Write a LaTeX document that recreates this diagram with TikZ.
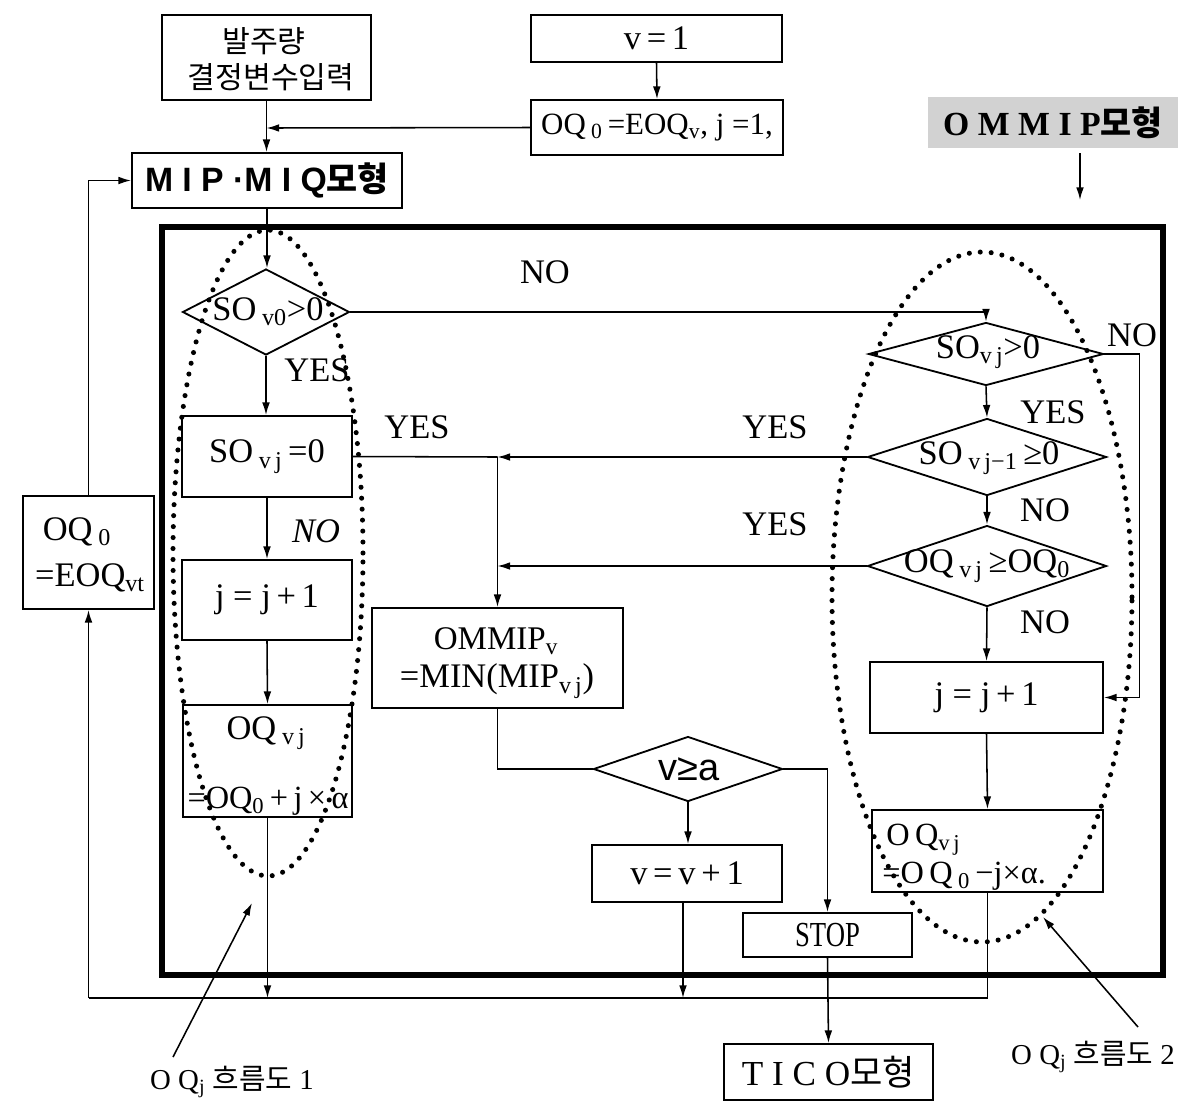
\documentclass[tikz,border=0pt]{standalone}
\usepackage{fontspec}
\usepackage{graphicx}
\setmainfont{Liberation Serif}
\newfontfamily\kr{Noto Sans CJK KR}
\newfontfamily\lsans{Liberation Sans}
\usetikzlibrary{arrows.meta,shapes.geometric}
\newcommand\PX{0.025cm}
\tikzset{
 ln/.style={line width=1.1pt},
 arr/.style={line width=1.1pt, -{Latex[length=9pt,width=5.5pt]}},
 bx/.style={draw, line width=1.3pt, inner sep=0pt, rectangle},
 dm/.style={draw, line width=1.3pt, diamond, inner sep=0pt, aspect=2},
 txt/.style={inner sep=0pt, font=\fontsize{24.5}{27}\selectfont},
 kt/.style={inner sep=0pt, font=\kr\fontsize{21.5}{24}\selectfont},
 captxt/.style={inner sep=0pt, font=\fontsize{20.5}{23}\selectfont},
 dots/.style={line width=3.6pt, line cap=round, dash pattern=on 0pt off 7.8pt},
}
\begin{document}
\begin{tikzpicture}[x=0.025cm,y=-0.025cm]
\fill[white] (0,0) rectangle (1198,1101);
\useasboundingbox (0,0) rectangle (1198,1101);

% top boxes
\node[bx, minimum width=209*\PX, minimum height=85*\PX] (inp) at (266.5,57.5) {};
\node[kt] (inp1) at (264,41) {발주량};
\node[kt] (inp2) at (271,77) {결정변수입력};
\node[bx, txt, minimum width=251*\PX, minimum height=47*\PX] (v1) at (656.5,38.5) {v\,=\,1};
\node[bx, txt, minimum width=252*\PX, minimum height=55*\PX, font=\fontsize{22}{24}\selectfont] (oq0) at (657,127.5) {OQ\,\textsubscript{0}\,=EOQ\textsubscript{v}, j =1,};
\node[bx, minimum width=270*\PX, minimum height=55*\PX, font=\lsans\bfseries\fontsize{24}{26}\selectfont] (mip) at (267,180.5) {M I P ·M I Q{\kr 모형}};
\node[fill=gray!35, inner sep=0pt, minimum width=250*\PX, minimum height=51*\PX, font=\bfseries\fontsize{24}{26}\selectfont] (ommip) at (1053,122.5) {O M M I P{\kr 모형}};

% big frame
\node[draw, line width=3.6pt, inner sep=0pt, minimum width=1001*\PX, minimum height=748*\PX] (big) at (662.5,601) {};

% left column
\node[dm, minimum width=167*\PX, minimum height=86*\PX] (d0) at (266,312) {};
\node[txt] (d0t) at (268,312) {SO\,\textsubscript{v0}>0};
\node[bx, txt, minimum width=170*\PX, minimum height=81*\PX] (s0) at (267,456.5) {SO\,\textsubscript{v\,j}\,=0};
\node[bx, txt, minimum width=170*\PX, minimum height=80*\PX] (jl) at (267,600) {j\ =\ j\,+\,1};
\node[bx, minimum width=169*\PX, minimum height=112*\PX] (oql) at (267.5,761) {};
\node[txt] (oql1) at (266,733) {OQ\,\textsubscript{v\,j}};
\node[txt, font=\fontsize{23}{26}\selectfont] (oql2) at (268,801) {=OQ\textsubscript{0}\,+\,j\,×\,α};
\node[bx, minimum width=131*\PX, minimum height=113*\PX] (eoq) at (88.5,552.5) {};
\node[txt] (eoq1) at (77,532) {OQ\,\textsubscript{0}};
\node[txt] (eoq2) at (90,578) {=EOQ\textsubscript{vt}};

% middle column
\node[bx, minimum width=251*\PX, minimum height=100*\PX] (mn) at (497.5,658) {};
\node[txt, font=\fontsize{23.5}{26}\selectfont] (mn1) at (496,641) {OMMIP\textsubscript{v}};
\node[txt] (mn2) at (497,681) {=MIN(MIP\textsubscript{v\,j})};
\node[dm, minimum width=189*\PX, minimum height=65*\PX] (d4) at (688,769) {};
\node[txt, font=\lsans\fontsize{27}{29}\selectfont] (d4t) at (689,769) {v≥a};
\node[bx, txt, minimum width=190*\PX, minimum height=57*\PX] (vv) at (687,873.5) {v\,=\,v\,+\,1};
\node[bx, txt, minimum width=169*\PX, minimum height=44*\PX, font=\fontsize{25}{27}\selectfont] (stop) at (827.5,935) {\scalebox{0.76}[1]{STOP}};
\node[bx, txt, minimum width=209*\PX, minimum height=56*\PX, font=\fontsize{25}{27}\selectfont] (tico) at (828.5,1072) {T I C O{\kr 모형}};

% right column
\node[dm, minimum width=235*\PX, minimum height=63*\PX] (d1) at (986,354) {};
\node[txt] (d1t) at (988,352) {SO\textsubscript{v\,j}>0};
\node[dm, minimum width=239*\PX, minimum height=77*\PX] (d2) at (987,457) {};
\node[txt] (d2t) at (989,458) {SO\,\textsubscript{v\,j−1}\,≥0};
\node[dm, minimum width=239*\PX, minimum height=81*\PX] (d3) at (987,566) {};
\node[txt] (d3t) at (987,566) {OQ\,\textsubscript{v\,j}\,≥OQ\textsubscript{0}};
\node[bx, txt, minimum width=233*\PX, minimum height=71*\PX] (jr) at (986.5,697.5) {j\ =\ j\,+\,1};
\node[bx, minimum width=231*\PX, minimum height=82*\PX] (oqr) at (987.5,851) {};
\node[txt, anchor=west, font=\fontsize{23}{25}\selectfont] (oqr1) at (886,840) {O\,Q\textsubscript{v\,j}};
\node[txt, anchor=west, font=\fontsize{23}{25}\selectfont] (oqr2) at (882,876) {=O\,Q\,\textsubscript{0}\,−j×α.};

% coordinates
\coordinate (j1) at (266.5,128);
\coordinate (m1) at (497.5,457);
\coordinate (m2) at (497.5,566);
\coordinate (bl) at (267.5,998);
\coordinate (bm) at (683,998);
\coordinate (br) at (987.5,998);
\coordinate (bll) at (88.5,998);
\coordinate (oa1) at (1080,153);
\coordinate (oa2) at (1080,200);
\coordinate (p1s) at (173,1057);
\coordinate (p1e) at (252,903);
\coordinate (p2s) at (1138,1027);
\coordinate (p2e) at (1043,917);

% connectors
\draw[arr] (inp.south) -- (inp.south |- mip.north);
\draw[arr] (v1.south) -- (oq0.north);
\draw[arr] (oq0.west) -- (j1);
\draw[arr] (mip.south) -- (mip.south |- d0.north);
\draw[arr] (d0.south) -- (d0.south |- s0.north);
\draw[arr] (s0.south) -- (jl.north);
\draw[arr] (jl.south) -- (oql.north);
\draw[arr] (oql.south) -- (bl);
\draw[ln] (oqr.south) -- (br) -- (bll);
\draw[arr] (bll) -- (eoq.south);
\draw[arr] (eoq.north) |- (mip.west);
\draw[arr] (vv.south -| bm) -- (bm);
\draw[arr] (d0.east) -| (d1.north);
\draw[arr] (d1.south) -- (d2.north);
\draw[arr] (d2.south) -- (d3.north);
\draw[arr] (d3.south) -- (jr.north);
\draw[arr] (jr.south) -- (oqr.north);
\draw[arr] (d1.east) -- ++(35,0) |- (jr.east);
\draw[ln] (s0.east) -- (m1);
\draw[arr] (d2.west) -- (m1);
\draw[arr] (d3.west) -- (m2);
\draw[arr] (m1) -- (mn.north);
\draw[ln] (mn.south) |- (d4.west);
\draw[arr] (d4.east) -| (stop.north);
\draw[arr] (d4.south) -- (d4.south |- vv.north);
\draw[arr] (stop.south) -- (tico.north);
\draw[arr] (oa1) -- (oa2);
\draw[arr] (p1s) -- (p1e);
\draw[arr] (p2s) -- (p2e);

% labels
\node[txt] (lNO1) at (545,272) {NO};
\node[txt] (lY1) at (317,370) {YES};
\node[txt] (lY2) at (417,427) {YES};
\node[txt] (lY3) at (775,427) {YES};
\node[txt] (lY4) at (775,524) {YES};
\node[txt, font=\itshape\fontsize{24.5}{27}\selectfont] (lNO2) at (316,531) {NO};
\node[txt] (lNO3) at (1132,335) {NO};
\node[txt] (lY5) at (1053,412) {YES};
\node[txt] (lNO4) at (1045,510) {NO};
\node[txt] (lNO5) at (1045,622) {NO};
\node[captxt] (lab1) at (232,1082) {O Q\textsubscript{j} {\kr 흐름도} 1};
\node[captxt] (lab2) at (1093,1057) {O Q\textsubscript{j} {\kr 흐름도} 2};

% dotted ellipses
\draw[dots] (268,553) ellipse [x radius=95*\PX, y radius=323*\PX];
\draw[dots] (982,597) ellipse [x radius=150*\PX, y radius=345*\PX];
\end{tikzpicture}
\end{document}
